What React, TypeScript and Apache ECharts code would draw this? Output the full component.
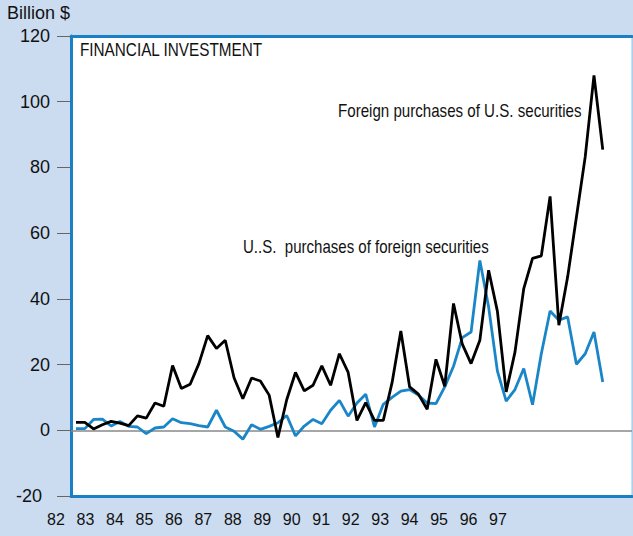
import React, { useEffect, useRef } from "react";
import * as echarts from "echarts";

// Quarterly data, 1982 onward (billion $)
const foreignPurchasesOfUS: number[] = [
  2.4, 2.4, 0.4, 1.7, 2.7, 2.2, 1.4, 4.4, 3.7, 8.3, 7.3, 19.7,
  12.7, 14.0, 20.3, 28.8, 24.9, 27.4, 16.0, 9.6, 15.9, 15.0, 10.7, -2.2,
  9.3, 17.6, 12.0, 13.7, 19.6, 13.7, 23.3, 17.6, 3.0, 8.4, 3.0, 3.0,
  14.5, 30.2, 13.2, 11.0, 6.4, 21.6, 13.4, 38.6, 26.2, 20.3, 27.4, 48.7,
  36.2, 11.7, 23.8, 43.1, 52.3, 53.1, 71.2, 32.0, 46.7, 64.9, 83.2, 108.0,
  85.4,
];

const usPurchasesOfForeign: number[] = [
  0.5, 0.5, 3.3, 3.4, 1.3, 2.7, 1.2, 1.0, -1.0, 0.7, 1.0, 3.5,
  2.3, 2.0, 1.4, 1.0, 6.1, 1.0, -0.3, -2.7, 1.7, 0.3, 1.2, 2.3,
  4.5, -1.7, 1.3, 3.3, 2.0, 6.1, 9.1, 4.3, 8.3, 11.0, 1.0, 7.9,
  10.0, 11.9, 12.4, 10.7, 8.3, 8.1, 13.2, 19.5, 28.2, 29.9, 51.7, 37.5,
  18.0, 8.9, 12.4, 18.8, 7.8, 23.3, 36.3, 33.5, 34.5, 20.1, 23.3, 29.9,
  14.7,
];

const yearLabels: number[] = [82, 83, 84, 85, 86, 87, 88, 89, 90, 91, 92, 93, 94, 95, 96, 97];

const title = "FINANCIAL INVESTMENT";
const unitLabel = "Billion $";
const foreignLabel = "Foreign purchases of U.S. securities";
const usLabel = "U..S.  purchases of foreign securities";

const SANS = "'Liberation Sans', Arial, Helvetica, sans-serif";

export default function App() {
  const ref = useRef<HTMLDivElement>(null);

  useEffect(() => {
    if (!ref.current) return;
    const chart = echarts.init(ref.current, undefined, { renderer: "svg" });
    const gridTop = 36;
    const gridBottom = 40;
    chart.setOption({
      animation: false,
      backgroundColor: "#cbdcf0",
      grid: [
        {
          left: 71,
          right: 1,
          top: gridTop,
          bottom: gridBottom,
          show: true,
          backgroundColor: "#ffffff",
          borderColor: "#8cc4ec",
          borderWidth: 1,
        },
        {
          left: 56,
          width: 442,
          top: gridTop,
          bottom: gridBottom,
          show: false,
        },
      ],
      xAxis: [
        {
          type: "value",
          gridIndex: 0,
          min: -0.57,
          max: 63.33,
          position: "bottom",
          axisLine: { show: true, onZero: false, lineStyle: { color: "#1a80c6", width: 3 } },
          axisTick: { show: false },
          axisLabel: { show: false },
          splitLine: { show: false },
        },
        {
          type: "value",
          gridIndex: 0,
          min: -0.57,
          max: 63.33,
          position: "top",
          axisLine: { show: true, onZero: false, lineStyle: { color: "#1a80c6", width: 3 } },
          axisTick: { show: false },
          axisLabel: { show: false },
          splitLine: { show: false },
        },
        {
          type: "value",
          gridIndex: 1,
          min: yearLabels[0],
          max: yearLabels[yearLabels.length - 1],
          interval: 1,
          axisLine: { show: false },
          axisTick: { show: false },
          splitLine: { show: false },
          axisLabel: {
            show: true,
            margin: 15,
            fontSize: 16,
            fontFamily: SANS,
            color: "#111",
            formatter: (v: number) => String(v),
          },
        },
      ],
      yAxis: [
        {
          type: "value",
          gridIndex: 0,
          min: -20,
          max: 120,
          interval: 20,
          axisLine: { show: true, onZero: false, lineStyle: { color: "#1a80c6", width: 3 } },
          axisTick: { show: true, length: 14, lineStyle: { color: "#666", width: 1 } },
          axisLabel: {
            margin: 21,
            fontSize: 18,
            fontFamily: SANS,
            color: "#111",
            formatter: (v: number) => (v < 0 ? "{neg|" + v + "}" : String(v)),
            rich: {
              neg: { fontSize: 18, fontFamily: SANS, color: "#111", padding: [0, 8, 0, 0] },
            },
          },
          splitLine: { show: false },
        },
        {
          type: "value",
          gridIndex: 1,
          show: false,
        },
      ],
      series: [
        {
          type: "line",
          name: usLabel,
          xAxisIndex: 0,
          yAxisIndex: 0,
          data: usPurchasesOfForeign.map((v, i) => [i, v]),
          showSymbol: false,
          lineStyle: { color: "#1a86c8", width: 2.8 },
          markLine: {
            silent: true,
            symbol: "none",
            label: { show: false },
            lineStyle: { color: "#888", width: 1.5, type: "solid" },
            data: [{ yAxis: 0 }],
            z: 1,
          },
          z: 3,
        },
        {
          type: "line",
          name: foreignLabel,
          xAxisIndex: 0,
          yAxisIndex: 0,
          data: foreignPurchasesOfUS.map((v, i) => [i, v]),
          showSymbol: false,
          lineStyle: { color: "#000000", width: 2.8 },
          z: 4,
        },
      ],
      graphic: [
        {
          type: "text",
          x: 7,
          y: 13,
          style: { text: unitLabel, fontSize: 18, fontFamily: SANS, fill: "#111", verticalAlign: "middle" },
        },
        {
          type: "text",
          x: 80,
          y: 50,
          scaleX: 0.85,
          style: { text: title, fontSize: 18, fontFamily: SANS, fill: "#111", verticalAlign: "middle" },
        },
        {
          type: "text",
          x: 338,
          y: 111,
          scaleX: 0.84,
          style: { text: foreignLabel, fontSize: 18, fontFamily: SANS, fill: "#111", verticalAlign: "middle" },
        },
        {
          type: "text",
          x: 243,
          y: 247,
          scaleX: 0.836,
          style: { text: usLabel, fontSize: 18, fontFamily: SANS, fill: "#111", verticalAlign: "middle" },
        },
      ],
    });
    return () => chart.dispose();
  }, []);

  return <div ref={ref} style={{ width: 633, height: 536, position: "absolute", left: 0, top: 0 }} />;
}
